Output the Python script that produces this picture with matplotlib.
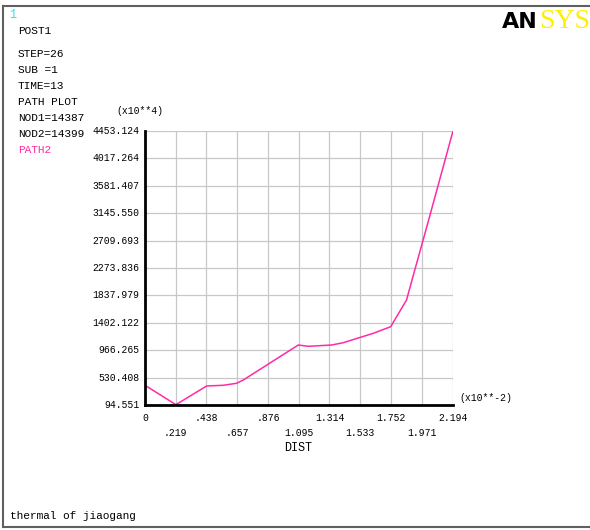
import matplotlib
matplotlib.use("Agg")
import matplotlib.pyplot as plt
from matplotlib.lines import Line2D

# Data (DIST in x10**-2, value in x10**4)
dist = [0.0, 0.220, 0.439, 0.558, 0.653, 0.700, 1.092, 1.163, 1.330, 1.413,
        1.626, 1.750, 1.863, 1.935, 2.001, 2.194]
vals = [408, 100, 397, 408, 440, 492, 1049, 1028, 1049, 1086,
        1235, 1340, 1765, 2349, 2878, 4453.124]

xticks = [0, .219, .438, .657, .876, 1.095, 1.314, 1.533, 1.752, 1.971, 2.194]
xtick_labels = ["0", ".219", ".438", ".657", ".876", "1.095", "1.314", "1.533",
                "1.752", "1.971", "2.194"]
yticks = [94.551, 530.408, 966.265, 1402.122, 1837.979, 2273.836, 2709.693,
          3145.550, 3581.407, 4017.264, 4453.124]
ytick_labels = ["94.551", "530.408", "966.265", "1402.122", "1837.979", "2273.836",
                "2709.693", "3145.550", "3581.407", "4017.264", "4453.124"]

info_lines = ["STEP=26", "SUB =1", "TIME=13", "PATH PLOT", "NOD1=14387", "NOD2=14399"]

W, H = 590, 530
fig = plt.figure(figsize=(W / 100, H / 100), dpi=100)
mono = "Liberation Mono"

def fx(px):
    return px / W

def fy(py):
    return 1 - py / H

left, right, top, bottom = 145, 453, 131, 405
ax = fig.add_axes([fx(left), fy(bottom), (right - left) / W, (bottom - top) / H])
ax.plot(dist, vals, color="#ff2aa8", lw=1.1, zorder=3)
ax.set_xlim(xticks[0], xticks[-1])
ax.set_ylim(yticks[0], yticks[-1])
ax.set_xticks(xticks)
ax.set_yticks(yticks)
ax.grid(True, color="#c8c8c8", lw=0.9)
ax.tick_params(length=0, labelbottom=False, labelleft=False)
for s in ["top", "right"]:
    ax.spines[s].set_visible(False)
for s in ["left", "bottom"]:
    ax.spines[s].set_linewidth(2.0)
    ax.spines[s].set_color("black")
    ax.spines[s].set_zorder(4)

fs = 7
for i, (t, lab) in enumerate(zip(xticks, xtick_labels)):
    off_px = 13 if i % 2 == 0 else 28
    ax.annotate(lab, xy=(t, 0), xycoords=("data", "axes fraction"),
                xytext=(0, -off_px * 0.72), textcoords="offset points",
                ha="center", va="center", fontsize=fs, family=mono)
for t, lab in zip(yticks, ytick_labels):
    ax.annotate(lab, xy=(0, t), xycoords=("axes fraction", "data"),
                xytext=(-4, 0), textcoords="offset points",
                ha="right", va="center", fontsize=fs, family=mono)

fig.text(fx(298), fy(448), "DIST", ha="center", va="center", fontsize=8.5, family=mono)
fig.text(fx(140), fy(111), "(x10**4)", ha="center", va="center", fontsize=fs, family=mono)
fig.text(fx(459), fy(398), "(x10**-2)", ha="left", va="center", fontsize=fs, family=mono)

# frame lines
fig.add_artist(Line2D([fx(3), 1], [fy(6), fy(6)], color="#606060", lw=1.5))
fig.add_artist(Line2D([fx(3), fx(3)], [fy(6), fy(527)], color="#606060", lw=1.5))
fig.add_artist(Line2D([fx(3), 1], [fy(527), fy(527)], color="#606060", lw=1.5))

# left information
fig.text(fx(9), fy(15), "1", color="#33e0f0", fontsize=8.5, family=mono, va="center")
fig.text(fx(18), fy(31), "POST1", fontsize=8, family=mono, va="center")
for i, line in enumerate(info_lines):
    fig.text(fx(18), fy(54 + 16 * i), line, fontsize=8, family=mono, va="center")
fig.text(fx(18), fy(150), "PATH2", color="#ff2aa8", fontsize=8, family=mono, va="center")
fig.text(fx(10), fy(516), "thermal of jiaogang", fontsize=8, family=mono, va="center")

# ANSYS logo
fig.text(fx(502), fy(22), "AN", fontsize=16, fontweight="bold", family="DejaVu Sans",
         color="black", va="center", ha="left")
fig.text(fx(539), fy(22), "SYS", fontsize=20, family="Liberation Serif",
         color="#ffee00", va="center", ha="left")

fig.savefig("out.png", dpi=100)
